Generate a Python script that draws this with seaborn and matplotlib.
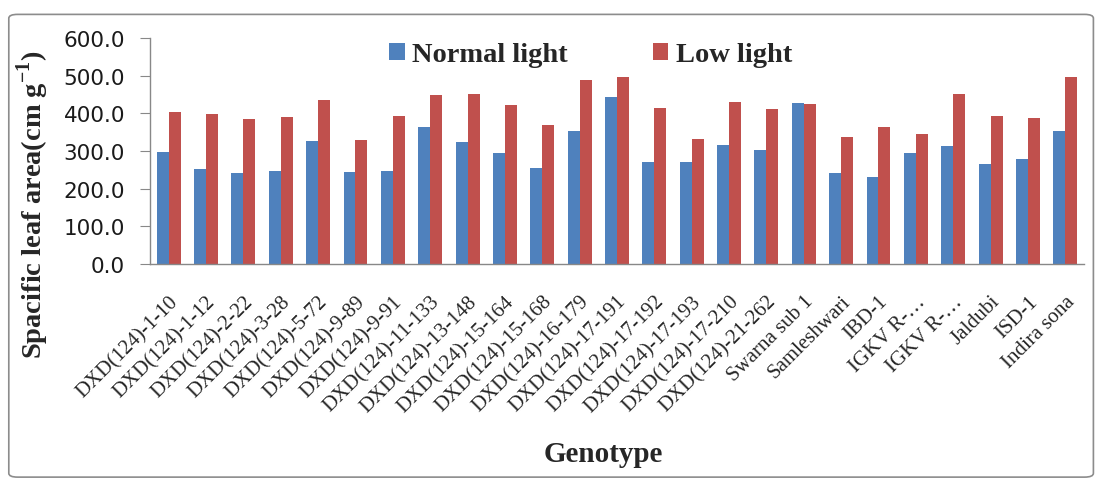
import numpy as np
import pandas as pd
import matplotlib
matplotlib.use("Agg")
import matplotlib.pyplot as plt
import matplotlib.transforms as mtransforms
import seaborn as sns
from matplotlib.patches import FancyBboxPatch

genotypes = ["DXD(124)-1-10", "DXD(124)-1-12", "DXD(124)-2-22", "DXD(124)-3-28",
             "DXD(124)-5-72", "DXD(124)-9-89", "DXD(124)-9-91", "DXD(124)-11-133",
             "DXD(124)-13-148", "DXD(124)-15-164", "DXD(124)-15-168", "DXD(124)-16-179",
             "DXD(124)-17-191", "DXD(124)-17-192", "DXD(124)-17-193", "DXD(124)-17-210",
             "DXD(124)-21-262", "Swarna sub 1", "Samleshwari", "IBD-1", "IGKV R-…",
             "IGKV R-…", "Jaldubi", "ISD-1", "Indira sona"]
normal_light = [298, 251, 241, 248, 326, 244, 248, 363, 323, 295, 255, 353, 442,
                272, 272, 316, 302, 428, 241, 231, 295, 312, 265, 279, 353]
low_light = [404, 397, 384, 390, 435, 329, 394, 449, 452, 421, 370, 489, 496,
             414, 333, 431, 411, 424, 336, 363, 346, 452, 394, 387, 496]
series_names = ["Normal light", "Low light"]
colors = ["#4F81BD", "#C0504D"]

n = len(genotypes)
ids = [f"g{i}" for i in range(n)]
df = pd.DataFrame({
    "id": ids * 2,
    "value": normal_light + low_light,
    "series": [series_names[0]] * n + [series_names[1]] * n,
})

sns.set_style("white")
plt.rcParams['font.family'] = ['Liberation Serif', 'DejaVu Serif']
plt.rcParams['mathtext.fontset'] = 'custom'
plt.rcParams['mathtext.rm'] = 'Liberation Serif'
plt.rcParams['mathtext.bf'] = 'Liberation Serif:bold'

fig = plt.figure(figsize=(11, 4.81), dpi=100)
ax = fig.add_axes([0.1364, 0.449, 0.849, 0.47])

sns.barplot(data=df, x="id", y="value", hue="series", order=ids,
            palette=colors, width=0.64, gap=0, ax=ax, errorbar=None,
            saturation=1, edgecolor="none")

ax.set_xlim(-0.5, n - 0.5)
ax.set_ylim(0, 600)
ax.set_yticks(np.arange(0, 601, 100))
ax.set_yticklabels([f"{v:.1f}" for v in np.arange(0, 601, 100)],
                   family=["DejaVu Sans"], fontsize=15.5, color="#1a1a1a")

ax.set_xticks(np.arange(-0.5, n, 1))
ax.set_xticklabels([])
ax.set_xticks(np.arange(n), minor=True)
ax.set_xticklabels(genotypes, minor=True, rotation=45, ha="right",
                   rotation_mode="anchor", fontsize=15,
                   family=["Liberation Serif", "DejaVu Serif"])
shift = mtransforms.ScaledTranslation(-8 / 100, 0, fig.dpi_scale_trans)
for lab in ax.get_xticklabels(minor=True):
    lab.set_transform(lab.get_transform() + shift)
ax.tick_params(axis="x", which="minor", length=0, pad=20)
ax.tick_params(axis="x", which="major", length=5, color="#888888", direction="out")
ax.tick_params(axis="y", length=7, color="#888888", direction="out", left=True, pad=11)

for s in ["top", "right"]:
    ax.spines[s].set_visible(False)
for s in ["left", "bottom"]:
    ax.spines[s].set_color("#888888")
    ax.spines[s].set_linewidth(1)

ax.set_xlabel("")
ax.set_ylabel("")
fig.text(603 / 1100, 1 - 455 / 481, "Genotype", fontsize=21, fontweight="bold",
         ha="center", va="center")
fig.text(33 / 1100, 1 - 205 / 481, r"Spacific leaf area(cm g$^{\mathbf{-1}}$)",
         fontsize=20.5, fontweight="bold", rotation=90, ha="center", va="center")

handles, labels = ax.get_legend_handles_labels()
ax.legend(handles, labels, loc="center left", bbox_to_anchor=(389 / 1100, 1 - 56 / 481),
          bbox_transform=fig.transFigure, ncol=2, frameon=False,
          prop={"family": "Liberation Serif", "weight": "bold", "size": 20.5},
          handlelength=0.55, handleheight=0.55, columnspacing=3.0, handletextpad=0.25,
          borderpad=0, borderaxespad=0)

border = FancyBboxPatch((0.008, 0.006), 0.986, 0.962, boxstyle="round,pad=0,rounding_size=0.008",
                        transform=fig.transFigure, fill=False, edgecolor="#8c8c8c", linewidth=1.2)
fig.patches.append(border)

fig.savefig("out.png", dpi=100)
